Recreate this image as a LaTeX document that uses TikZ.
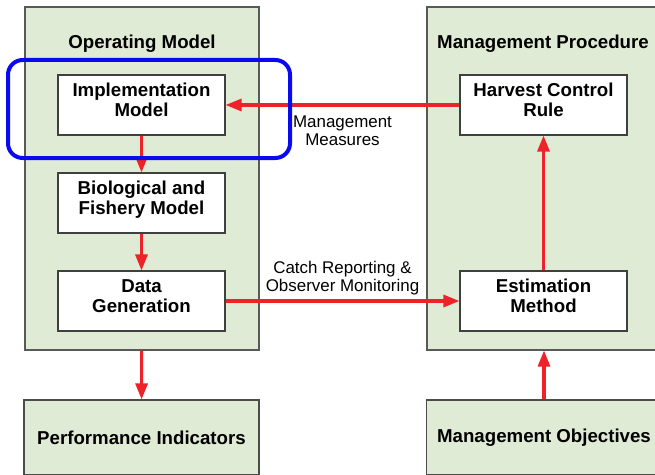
\documentclass[tikz,border=0pt]{standalone}
\usepackage{fontspec}
\setmainfont{Liberation Sans}
\usetikzlibrary{positioning}
\usetikzlibrary{arrows.meta}
\definecolor{panelgreen}{HTML}{DFEBD5}
\definecolor{flowred}{HTML}{EE2229}
\definecolor{hiliteblue}{HTML}{0A0AF0}

\begin{document}
\begin{tikzpicture}[x=0.75pt, y=-0.75pt,
        panel/.style={draw=black!65, fill=panelgreen, line width=0.8pt, inner sep=0pt,
            minimum width=175.5pt, minimum height=257.25pt},
        endpanel/.style={draw=black!70, fill=panelgreen, line width=0.8pt, inner sep=0pt,
            minimum width=176.25pt, minimum height=56.25pt,
            font=\fontsize{14}{15}\selectfont\bfseries},
        block/.style={draw=black!75, fill=white, line width=0.8pt, inner sep=0pt,
            minimum width=125.25pt, minimum height=45pt, align=center, text depth=7.5pt,
            font=\fontsize{14}{15}\selectfont\bfseries},
        title/.style={font=\fontsize{14}{15}\selectfont\bfseries},
        flow/.style={draw=flowred, line width=2.3pt, -{Triangle[length=12pt,width=9pt]}},
        note/.style={align=center, font=\fontsize{12.7}{13.5}\selectfont}]
        \useasboundingbox (0,0) rectangle (655,474);
        \clip (0,0) rectangle (655,474);

        % panels
        \node[panel] (opmodel) at (142,178.5) {};
        \node[panel] (mproc) at (544,178.5) {};
        \node[title] (optitle) at (142,44) {Operating Model};
        \node[title] (mptitle) at (543,44) {Management Procedure};

        \node[block] (implement) at (141.5,105) {Implementation\\Model};
        \node[block] (biofish) at (141.5,203) {Biological and\\Fishery Model};
        \node[block] (datagen) at (141.5,301) {Data\\Generation};
        \node[block] (hcr) at (543.5,105) {Harvest Control\\Rule};
        \node[block] (estimate) at (543.5,301) {Estimation\\Method};

        \node[endpanel] (perfind) at (141.5,437.5) {Performance Indicators};
        \node[endpanel] (mgmtobj) at (544,437.5) {Management Objectives};

        \draw[flow] (implement) -- (biofish);
        \draw[flow] (biofish) -- (datagen);
        \draw[flow] (hcr) -- node[note, below=4pt] {Management\\Measures} (implement);
        \draw[flow] (datagen) -- node[note, above=0pt] {Catch Reporting \&\\Observer Monitoring} (estimate);
        \draw[flow] (estimate) -- (hcr);
        \draw[flow] (opmodel) -- (perfind);
        \draw[flow] (mgmtobj) -- (mproc);

        % highlight
        \node[draw=hiliteblue, line width=3pt, rounded corners=11pt, inner sep=0pt,
            minimum width=211.5pt, minimum height=73.5pt] (hilite) at (149,109) {};
\end{tikzpicture}
\end{document}
